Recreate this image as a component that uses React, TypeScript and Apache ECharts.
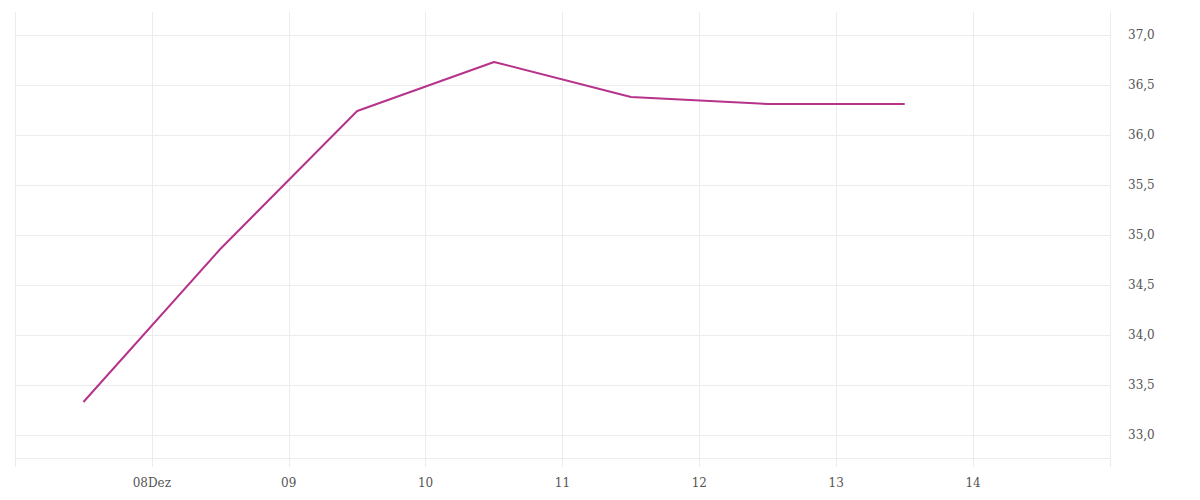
import React, { useEffect, useRef } from "react";
import * as echarts from "echarts";

// Days of December (12:00 of each day)
const dayPositions = [7.5, 8.5, 9.5, 10.5, 11.5, 12.5, 13.5];
const values = [33.33, 34.86, 36.24, 36.73, 36.38, 36.31, 36.31];
const tickDays = [8, 9, 10, 11, 12, 13, 14];
const tickLabels = ["08Dez", "09", "10", "11", "12", "13", "14"];
const yTicks = [33, 33.5, 34, 34.5, 35, 35.5, 36, 36.5, 37];

export default function App() {
  const ref = useRef<HTMLDivElement>(null);
  useEffect(() => {
    if (!ref.current) return;
    const chart = echarts.init(ref.current, undefined, { renderer: "svg" });
    const grid = "#ececec";
    const font = "'DejaVu Serif', 'Liberation Serif', serif";
    chart.setOption({
      animation: false,
      grid: { left: 15, right: 90, top: 12, bottom: 42, containLabel: false },
      xAxis: {
        type: "value",
        min: 7,
        max: 15,
        interval: 1,
        axisLine: { show: true, lineStyle: { color: grid } },
        axisTick: { show: true, length: 9, lineStyle: { color: grid } },
        splitLine: { show: true, lineStyle: { color: grid } },
        axisLabel: {
          color: "#555",
          fontFamily: font,
          fontSize: 12,
          margin: 19,
          formatter: (v: number) => {
            const i = tickDays.indexOf(Math.round(v));
            return i >= 0 ? tickLabels[i] : "";
          },
        },
      },
      yAxis: {
        type: "value",
        position: "right",
        min: 32.77,
        max: 37.23,
        interval: 0.5,
        axisLine: { show: true, lineStyle: { color: grid } },
        axisTick: { show: false },
        splitLine: { show: false },
        axisLabel: { show: false },
      },
      series: [
        {
          type: "line",
          z: 1,
          data: [],
          markLine: {
            silent: true,
            symbol: "none",
            label: {
              show: true,
              position: "end",
              color: "#555",
              fontFamily: font,
              fontSize: 12,
              distance: 18,
              formatter: (p: any) => p.value.toFixed(1).replace(".", ","),
            },
            lineStyle: { color: grid, type: "solid", width: 1 },
            data: yTicks.map((v) => ({ yAxis: v })),
          },
        },
        {
          type: "line",
          z: 5,
          data: dayPositions.map((d, i) => [d, values[i]]),
          symbol: "none",
          lineStyle: { color: "#b5338a", width: 2 },
        },
      ],
    });
    return () => chart.dispose();
  }, []);
  return (
    <div
      ref={ref}
      style={{ position: "absolute", left: 0, top: 0, width: 1200, height: 500 }}
    />
  );
}
